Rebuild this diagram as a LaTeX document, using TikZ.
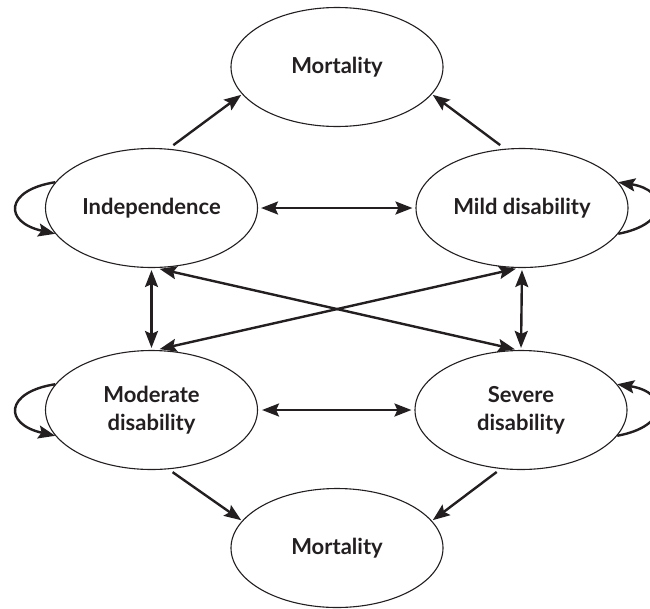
\documentclass[tikz,border=0pt]{standalone}
\usepackage{fontspec}
\setmainfont{Lato}
\usetikzlibrary{shapes.geometric,arrows.meta}
\definecolor{ink}{HTML}{231F20}
\tikzset{
  state/.style={ellipse,draw=ink,line width=1.1pt,inner sep=0pt,
    minimum width=212pt,minimum height=119pt,align=center,
    font=\fontsize{22}{28}\selectfont\bfseries,text=ink},
  arr/.style={draw=ink,line width=2.4pt,-{Stealth[length=17pt,width=13pt,inset=3pt]}},
  dbl/.style={draw=ink,line width=2.4pt,{Stealth[length=17pt,width=13pt,inset=3pt]}-{Stealth[length=17pt,width=13pt,inset=3pt]}}
}
\begin{document}
\begin{tikzpicture}[x=1pt,y=-1pt]
\useasboundingbox (0,0) rectangle (650,608);
\clip (0,0) rectangle (650,608);
\node[state] (mort1) at (337,67) {Mortality};
\node[state] (ind) at (151.5,208) {Independence};
\node[state] (mild) at (522,208) {Mild disability};
\node[state] (mod) at (151.5,410) {Moderate\\disability};
\node[state] (sev) at (521,410) {Severe\\disability};
\node[state] (mort2) at (337,548) {Mortality};

\draw[arr,shorten <=6pt,shorten >=1pt] (ind.74) -- (mort1.196);
\draw[arr,shorten <=6pt,shorten >=1pt] (mild.106) -- (mort1.-16);
\draw[arr,shorten <=5pt,shorten >=1pt] (mod.-74) -- (mort2.164);
\draw[arr,shorten <=5pt,shorten >=1pt] (sev.-109) -- (mort2.16);

\draw[dbl,shorten <=3pt,shorten >=3pt] (ind.east) -- (mild.west);
\draw[dbl,shorten <=4pt,shorten >=3pt] (mod.east) -- (sev.west);
\draw[dbl,shorten <=2pt,shorten >=2pt] (ind.south) -- (mod.north);
\draw[dbl,shorten <=2pt,shorten >=2pt] (mild.south) -- (sev.north);
\draw[dbl,shorten <=4pt,shorten >=3pt] (ind.-86) -- (sev.93);
\draw[dbl,shorten <=4pt,shorten >=3pt] (mod.86) -- (mild.-93);

\draw[arr] (ind.165) .. controls (5,190) and (3,222) .. (ind.195);
\draw[arr] (mild.-15) .. controls (670,224) and (668,190) .. (mild.15);
\draw[arr] (mod.165) .. controls (5,392) and (3,424) .. (mod.195);
\draw[arr] (sev.-15) .. controls (670,426) and (668,392) .. (sev.15);
\end{tikzpicture}
\end{document}
